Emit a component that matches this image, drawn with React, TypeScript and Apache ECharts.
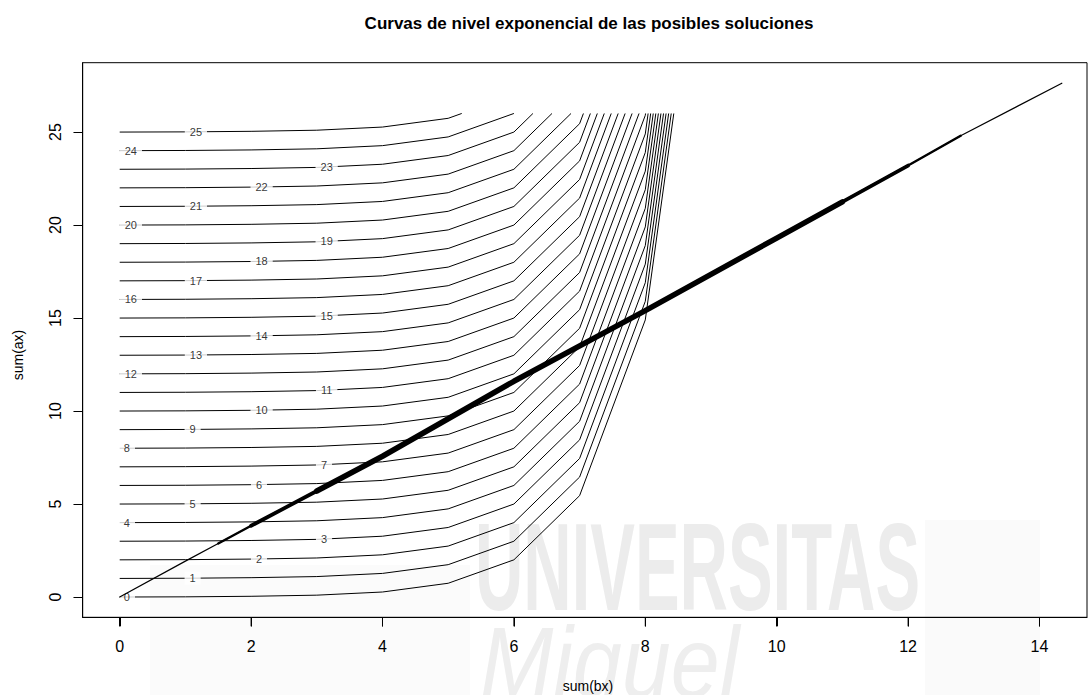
import React, { useEffect, useRef } from "react";
import * as echarts from "echarts";

// ---- data ----
const titleText = "Curvas de nivel exponencial de las posibles soluciones";
const xTicks = [0, 2, 4, 6, 8, 10, 12, 14];
const yTicks = [0, 5, 10, 15, 20, 25];
const xRange = [-0.563, 14.723];
const yRange = [-1.09, 28.73];
// x grid of the contour computation and the rise of every level curve above its level
const gridX = [0, 1, 2, 3, 4, 5, 6, 7, 8, 9];
const riseOffsets = [0, 0.01, 0.04, 0.1, 0.27, 0.74, 2.0, 5.45, 14.9, 40.5];
const gridTopY = 26;
const levels = [0, 1, 2, 3, 4, 5, 6, 7, 8, 9, 10, 11, 12, 13, 14, 15, 16, 17, 18, 19, 20, 21, 22, 23, 24, 25];
const labelXs = [0.11, 1.11, 2.12, 3.11, 0.11, 1.11, 2.12, 3.11, 0.11, 1.11, 2.16, 3.15, 0.17, 1.16, 2.16, 3.15, 0.17, 1.16, 2.16, 3.15, 0.17, 1.16, 2.16, 3.15, 0.17, 1.16];
// solution cloud (sum(bx), sum(ax))
const solX = [0, 1, 1.5, 2, 3, 4, 6, 8, 10, 11, 12, 12.8, 14.34];
const solY = [0, 1.93, 2.88, 3.83, 5.7, 7.57, 11.6, 15.4, 19.3, 21.25, 23.2, 24.8, 27.63];
// index ranges of the cloud drawn with increasing thickness
const solWidthRanges = [
  { from: 0, to: 12, width: 1.2 },
  { from: 2, to: 11, width: 2.4 },
  { from: 3, to: 10, width: 3.8 },
  { from: 4, to: 9, width: 5.5 },
];

const FONT = "'Liberation Sans', Arial, sans-serif";
const TICK_LEN = 9;
const GRID_LEFT = 82.7;
const GRID_TOP = 62.7;
const GRID_RIGHT_EDGE = 1087;
const GRID_BOTTOM_EDGE = 617.3;

function buildCurve(level: number): number[][] {
  const pts: number[][] = [];
  for (let i = 0; i < gridX.length; i++) {
    const y = level + riseOffsets[i];
    if (y <= gridTopY) {
      pts.push([gridX[i], y]);
    } else {
      const px = gridX[i - 1];
      const py = level + riseOffsets[i - 1];
      const t = (gridTopY - py) / (y - py);
      pts.push([px + t * (gridX[i] - px), gridTopY]);
      break;
    }
  }
  return pts;
}

function curveYAt(level: number, x: number): number {
  for (let i = 1; i < gridX.length; i++) {
    if (x <= gridX[i]) {
      const t = (x - gridX[i - 1]) / (gridX[i] - gridX[i - 1]);
      return level + riseOffsets[i - 1] + t * (riseOffsets[i] - riseOffsets[i - 1]);
    }
  }
  return level;
}

export default function App() {
  const ref = useRef<HTMLDivElement>(null);
  useEffect(() => {
    if (!ref.current) return;
    const chart = echarts.init(ref.current, undefined, { renderer: "svg" });

    const contourSeries = levels.map((lv) => ({
      type: "line",
      data: buildCurve(lv),
      symbol: "none",
      silent: true,
      lineStyle: { color: "#000", width: 1 },
      z: 2,
    }));

    const labelData = levels.map((lv, i) => [labelXs[i], curveYAt(lv, labelXs[i]), lv]);

    const solPts = solX.map((x, i) => [x, solY[i]]);
    const solSeries = solWidthRanges.map((r) => ({
      type: "line",
      data: solPts.slice(r.from, r.to + 1),
      symbol: "none",
      silent: true,
      z: 5,
      lineStyle: { color: "#000", width: r.width, cap: "round" },
    }));

    // tick marks as unclipped line series (lengths converted to data units)
    const tickLenX = ((xRange[1] - xRange[0]) * TICK_LEN) / (GRID_RIGHT_EDGE - GRID_LEFT);
    const tickLenY = ((yRange[1] - yRange[0]) * TICK_LEN) / (GRID_BOTTOM_EDGE - GRID_TOP);
    const tickLineSeries = [
      ...xTicks.map((v) => ({
        type: "line",
        data: [[v, yRange[0]], [v, yRange[0] - tickLenY]],
        symbol: "none",
        silent: true,
        clip: false,
        z: 6,
        lineStyle: { color: "#000", width: 1 },
      })),
      ...yTicks.map((v) => ({
        type: "line",
        data: [[xRange[0], v], [xRange[0] - tickLenX, v]],
        symbol: "none",
        silent: true,
        clip: false,
        z: 6,
        lineStyle: { color: "#000", width: 1 },
      })),
    ];

    const baseGraphic: any[] = [
      {
        id: "wm-rect1",
        type: "rect",
        z: -10,
        shape: { x: 150, y: 565, width: 320, height: 130 },
        style: { fill: "#fbfbfb" },
        silent: true,
      },
      {
        id: "wm-rect2",
        type: "rect",
        z: -10,
        shape: { x: 925, y: 520, width: 115, height: 175 },
        style: { fill: "#fafafa" },
        silent: true,
      },
      {
        id: "wm-univ",
        type: "text",
        z: -5,
        x: 475,
        y: 505,
        scaleX: 0.54,
        silent: true,
        style: {
          text: "UNIVERSITAS",
          font: `bold 124px ${FONT}`,
          fill: "#ececec",
          verticalAlign: "top",
        },
      },
      {
        id: "wm-miguel",
        type: "text",
        z: -5,
        x: 480,
        y: 612,
        scaleX: 0.88,
        silent: true,
        style: {
          text: "Miguel",
          font: `italic 100px ${FONT}`,
          fill: "#eeeeee",
          verticalAlign: "top",
        },
      },
      {
        id: "title",
        type: "text",
        x: 589,
        y: 23,
        style: {
          text: titleText,
          font: `bold 17px ${FONT}`,
          fill: "#000",
          align: "center",
          verticalAlign: "middle",
        },
      },
      {
        id: "xname",
        type: "text",
        x: 588,
        y: 686,
        style: {
          text: "sum(bx)",
          font: `14px ${FONT}`,
          fill: "#000",
          align: "center",
          verticalAlign: "middle",
        },
      },
      {
        id: "yname",
        type: "text",
        x: 18,
        y: 355,
        rotation: Math.PI / 2,
        style: {
          text: "sum(ax)",
          font: `14px ${FONT}`,
          fill: "#000",
          align: "center",
          verticalAlign: "middle",
        },
      },
    ];

    const option: any = {
      animation: false,
      backgroundColor: "#fff",
      graphic: baseGraphic,
      grid: {
        left: GRID_LEFT,
        top: GRID_TOP,
        right: 1088 - GRID_RIGHT_EDGE,
        bottom: 695 - GRID_BOTTOM_EDGE,
        show: true,
        borderColor: "#000",
        borderWidth: 1,
        backgroundColor: "transparent",
        containLabel: false,
      },
      xAxis: {
        type: "value",
        position: "bottom",
        min: xRange[0],
        max: xRange[1],
        axisLine: { show: true, onZero: false, lineStyle: { color: "#000", width: 1 } },
        splitLine: { show: false },
        axisTick: {
          show: true,
          length: TICK_LEN,
          inside: false,
          customValues: xTicks,
          lineStyle: { color: "#000", width: 1 },
        },
        axisLabel: {
          show: true,
          customValues: xTicks,
          margin: 21,
          fontSize: 16,
          fontFamily: FONT,
          color: "#000",
        },
      },
      yAxis: {
        type: "value",
        position: "left",
        min: yRange[0],
        max: yRange[1],
        axisLine: { show: true, onZero: false, lineStyle: { color: "#000", width: 1 } },
        splitLine: { show: false },
        axisTick: {
          show: true,
          length: TICK_LEN,
          inside: false,
          customValues: yTicks,
          lineStyle: { color: "#000", width: 1 },
        },
        axisLabel: {
          show: true,
          customValues: yTicks,
          rotate: 90,
          margin: 19,
          fontSize: 16,
          fontFamily: FONT,
          color: "#000",
        },
      },
      series: [
        ...contourSeries,
        {
          type: "scatter",
          data: labelData,
          symbolSize: 0,
          silent: true,
          z: 3,
          itemStyle: { color: "#000" },
          label: {
            show: true,
            position: "inside",
            formatter: (p: any) => String(p.value[2]),
            fontSize: 11,
            fontFamily: FONT,
            color: "#000",
            textBorderWidth: 0,
            textBorderColor: "transparent",
            backgroundColor: "#fff",
            padding: [1, 5, 1, 5],
          },
        },
        ...solSeries,
        ...tickLineSeries,
      ],
    };

    chart.setOption(option);

    // crisp tick marks as well: position along the axis from the chart's own scale
    const tickGraphic: any[] = [];
    xTicks.forEach((v, i) => {
      const px = Number(chart.convertToPixel({ xAxisIndex: 0 }, v));
      const x = Math.round(px) + 0.5;
      tickGraphic.push({
        id: "xt" + i,
        type: "polyline",
        z: 50,
        silent: true,
        shape: { points: [[x, GRID_BOTTOM_EDGE], [x, GRID_BOTTOM_EDGE + TICK_LEN]] },
        style: { stroke: "#000", lineWidth: 1, fill: "none" },
      });
    });
    yTicks.forEach((v, i) => {
      const py = Number(chart.convertToPixel({ yAxisIndex: 0 }, v));
      const y = Math.round(py) + 0.5;
      tickGraphic.push({
        id: "yt" + i,
        type: "polyline",
        z: 50,
        silent: true,
        shape: { points: [[GRID_LEFT, y], [GRID_LEFT - TICK_LEN, y]] },
        style: { stroke: "#000", lineWidth: 1, fill: "none" },
      });
    });
    chart.setOption({ graphic: [...baseGraphic, ...tickGraphic] });

    return () => chart.dispose();
  }, []);

  return (
    <div
      ref={ref}
      style={{ position: "absolute", left: 0, top: 0, width: 1088, height: 695 }}
    />
  );
}
